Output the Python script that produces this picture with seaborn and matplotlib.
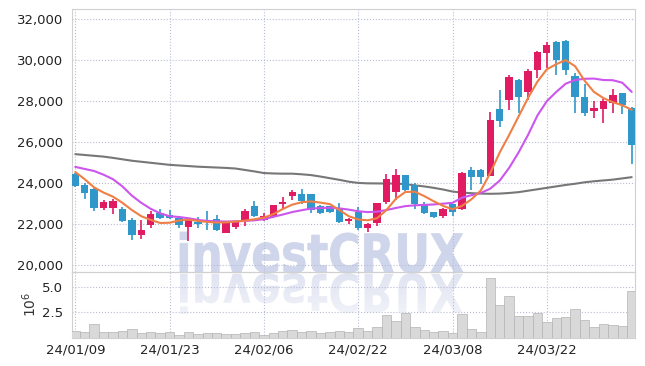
import numpy as np
import pandas as pd
import matplotlib
matplotlib.use("Agg")
import matplotlib.pyplot as plt
import seaborn as sns
from matplotlib.textpath import TextPath
from matplotlib.font_manager import FontProperties
from matplotlib.patches import PathPatch
from matplotlib.transforms import Affine2D

# ---------------- data ----------------
opens = [24470, 23900, 23700, 22800, 22800, 22770, 22200, 21460, 21950, 22550,
         22440, 22330, 21870, 22110, 22130, 22280, 21580, 21870, 22150, 22890,
         22230, 22360, 22990, 23380, 23460, 23460, 22910, 22880, 22770, 22150,
         22600, 21820, 22060, 23090, 23580, 24390, 23900, 22980, 22590, 22390,
         22980, 22730, 24670, 24670, 24360, 27640, 28050, 29020, 28450, 29510,
         30360, 30890, 30940, 29220, 28180, 27530, 27630, 27920, 28380, 27660]
highs = [24500, 24030, 23750, 23200, 23230, 22850, 22330, 22200, 22650, 22770,
         22680, 22350, 22300, 22360, 22660, 22440, 22080, 22160, 22770, 23120,
         22570, 22960, 23330, 23690, 23740, 23500, 22950, 22900, 23040, 22300,
         22850, 22050, 23060, 24450, 24720, 24400, 24000, 23090, 22600, 22800,
         23000, 24550, 24800, 24680, 27480, 28540, 29270, 29080, 29590, 30450,
         30890, 30950, 30960, 29380, 28820, 28010, 28100, 28570, 28400, 27700]
lows = [23800, 23250, 22630, 22680, 22490, 22130, 21220, 21300, 21840, 22250,
        22250, 21840, 21170, 21840, 21740, 21700, 21560, 21790, 21900, 22350,
        22180, 22330, 22770, 23200, 22980, 22550, 22500, 22550, 22080, 22030,
        21740, 21620, 21900, 23000, 23170, 23620, 22770, 22500, 22330, 22330,
        22390, 22700, 23690, 23950, 24340, 26750, 27560, 27400, 28050, 29110,
        29600, 29270, 29270, 27430, 27270, 27160, 26940, 27400, 27370, 24930]
closes = [23870, 23530, 22800, 23070, 23120, 22160, 21460, 21710, 22490, 22300,
          22310, 21990, 22280, 22030, 22100, 21740, 22060, 22150, 22650, 22390,
          22390, 22930, 23090, 23560, 23120, 22680, 22550, 22600, 22110, 22260,
          21820, 22000, 23040, 24230, 24390, 23660, 22980, 22550, 22360, 22770,
          22600, 24520, 24310, 24310, 27070, 27040, 29160, 28210, 29460, 30400,
          30730, 30000, 29510, 28210, 27430, 27660, 28000, 28290, 27790, 25870]
volume_m = [0.63, 0.56, 1.32, 0.56, 0.56, 0.66, 0.82, 0.49, 0.56, 0.46,
            0.56, 0.23, 0.56, 0.36, 0.43, 0.43, 0.33, 0.33, 0.46, 0.56,
            0.23, 0.46, 0.66, 0.76, 0.56, 0.66, 0.46, 0.56, 0.66, 0.56,
            0.92, 0.66, 1.05, 2.24, 1.65, 2.44, 1.05, 0.76, 0.56, 0.66,
            0.46, 2.34, 0.86, 0.56, 5.89, 3.23, 4.12, 2.14, 2.14, 2.44,
            1.55, 1.94, 2.04, 2.83, 1.75, 1.05, 1.35, 1.25, 1.15, 4.61]
ma_short = [24550, 24200, 23800, 23550, 23350, 23050, 22700, 22400, 22220, 22070,
            22080, 22190, 22230, 22170, 22120, 22090, 22100, 22140, 22180, 22250,
            22330, 22500, 22750, 22960, 23080, 23120, 23060, 22990, 22700, 22400,
            22240, 22200, 22300, 22700, 23250, 23580, 23590, 23380, 23130, 22900,
            22740, 22900, 23220, 23650, 24500, 25500, 26350, 27250, 28150, 28950,
            29550, 29800, 30000, 29700, 29000, 28450, 28150, 27950, 27800, 27580]
ma_mid = [24800, 24700, 24600, 24420, 24200, 23850, 23400, 23050, 22760, 22540,
          22400, 22360, 22300, 22220, 22170, 22150, 22140, 22150, 22170, 22200,
          22250, 22370, 22480, 22600, 22690, 22770, 22800, 22810, 22780, 22720,
          22640, 22600, 22620, 22700, 22800, 22890, 22930, 22950, 22970, 23010,
          23050, 23300, 23420, 23530, 23740, 24130, 24750, 25500, 26350, 27300,
          28000, 28450, 28850, 29030, 29090, 29100, 29030, 29020, 28900, 28450]
ma_long = [25420, 25380, 25340, 25300, 25240, 25170, 25100, 25050, 25000, 24950,
           24900, 24870, 24840, 24810, 24790, 24770, 24750, 24720, 24650, 24580,
           24500, 24480, 24470, 24470, 24440, 24400, 24330, 24250, 24170, 24080,
           24020, 24000, 23995, 23990, 23990, 23960, 23900, 23850, 23780, 23700,
           23600, 23550, 23520, 23500, 23490, 23500, 23530, 23570, 23640, 23710,
           23780, 23850, 23920, 23980, 24050, 24100, 24140, 24180, 24240, 24300]
tick_labels = ["24/01/09", "24/01/23", "24/02/06", "24/02/22", "24/03/08", "24/03/22"]
tick_step = 10
price_ticks = [20000, 22000, 24000, 26000, 28000, 30000, 32000]
vol_ticks = [2.5, 5.0]

# ---------------- styling ----------------
RED = "#e01b62"
BLUE = "#2f97c9"
C_SHORT = "#ef7f45"
C_MID = "#cc55ee"
C_LONG = "#777777"
GRID = "#b8bdd6"
SPINE = "#d0d0d0"
WM = "#cfd5ea"

sns.set_theme(style="white")
plt.rcParams["font.family"] = ["DejaVu Sans"]

n = len(closes)
idx = np.arange(n)
df = pd.DataFrame({"i": idx, "open": opens, "high": highs, "low": lows,
                   "close": closes, "vol": volume_m, "ma5": ma_short,
                   "ma20": ma_mid, "malong": ma_long})

W, H = 645, 366
fig = plt.figure(figsize=(W / 100, H / 100), dpi=100)
fig.patch.set_facecolor("white")


def rect(l, t, r, b):
    return [l / W, 1 - b / H, (r - l) / W, (b - t) / H]


# background layer for the watermark
bg = fig.add_axes([0, 0, 1, 1], zorder=0)
bg.axis("off")
ax = fig.add_axes(rect(71.5, 9.3, 635, 271.5), zorder=1)
axv = fig.add_axes(rect(71.5, 271.5, 635, 337.7), zorder=1)
for a in (ax, axv):
    a.set_facecolor("none")

# watermark "investCRUX" with mirrored reflection
tp = TextPath((0, 0), "investCRUX", size=50,
              prop=FontProperties(family="DejaVu Sans", weight="bold"))
ext = tp.get_extents()
x0, x1 = 180, 463
base = H - 273
cap = 41
sx = (x1 - x0) / ext.width
sy = cap / ext.height
tr = Affine2D().translate(-ext.x0, -ext.y0).scale(sx, sy).translate(x0, base)
bg.add_patch(PathPatch(tr.transform_path(tp), facecolor=WM, edgecolor=WM, lw=0.6))
trr = Affine2D().translate(-ext.x0, -ext.y0).scale(sx, -sy).translate(x0, base)
refl = PathPatch(trr.transform_path(tp), facecolor="none", edgecolor="none")
bg.add_patch(refl)
rgb = matplotlib.colors.to_rgb(WM)
alpha = np.linspace(0.65, 0.3, 64)
img = np.zeros((64, 2, 4))
img[..., 0], img[..., 1], img[..., 2] = rgb
img[..., 3] = alpha[:, None]
im = bg.imshow(img, extent=(x0, x1, base - cap, base), aspect="auto",
               origin="upper", interpolation="bilinear")
im.set_clip_path(refl)
bg.set_xlim(0, W)
bg.set_ylim(0, H)

# ---------------- price panel ----------------
up = df["close"] >= df["open"]
colors = np.where(up, RED, BLUE)
ax.vlines(df["i"], df["low"], df["high"], colors=colors, lw=1.2, zorder=3)
body_bottom = np.minimum(df["open"], df["close"])
body_h = np.maximum(np.abs(df["close"] - df["open"]), 40)
ax.bar(df["i"], body_h, bottom=body_bottom, width=0.78, color=colors,
       edgecolor="none", zorder=4)

sns.lineplot(data=df, x="i", y="malong", ax=ax, color=C_LONG, lw=1.5, zorder=2)
sns.lineplot(data=df, x="i", y="ma20", ax=ax, color=C_MID, lw=1.5, zorder=5)
sns.lineplot(data=df, x="i", y="ma5", ax=ax, color=C_SHORT, lw=1.5, zorder=6)

ax.set_xlim(-0.4, n - 1 + 0.35)
ax.set_ylim(19707, 32473)
ax.set_yticks(price_ticks)
ax.set_yticklabels([f"{v:,}" for v in price_ticks])
ax.set_xticks(np.arange(0, n, tick_step))
ax.set_xticklabels([])
ax.set_xlabel("")
ax.set_ylabel("")

# ---------------- volume panel ----------------
sns.barplot(data=df, x="i", y="vol", ax=axv, native_scale=True, width=1.0,
            color="#d9d9d9", edgecolor="#b3b3b3", linewidth=0.5,
            saturation=1, zorder=3)
axv.set_xlim(-0.4, n - 1 + 0.35)
axv.set_ylim(0, 6.55)
axv.set_yticks(vol_ticks)
axv.set_yticklabels([f"{v:.1f}" for v in vol_ticks])
axv.set_xticks(np.arange(0, n, tick_step))
axv.set_xticklabels(tick_labels)
axv.set_xlabel("")
axv.set_ylabel("$10^6$", fontsize=10, color="#333333", labelpad=2)

for a in (ax, axv):
    a.grid(True, ls=":", color=GRID, lw=0.8)
    a.set_axisbelow(True)
    a.tick_params(length=0, labelsize=9.5, labelcolor="#222222", pad=6)
    for s in a.spines.values():
        s.set_color(SPINE)
        s.set_linewidth(0.8)
axv.tick_params(axis="x", pad=4)

fig.savefig("out.png", dpi=100, facecolor="white")
